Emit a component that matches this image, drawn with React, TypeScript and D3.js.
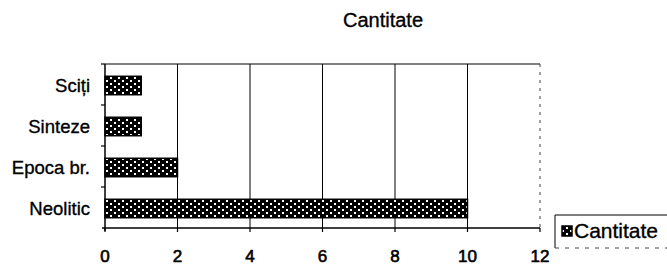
import React from "react";
import * as d3 from "d3";

const categories = ["Sciți", "Sinteze", "Epoca br.", "Neolitic"];
const values = [1, 1, 2, 10];
const xTicks = [0, 2, 4, 6, 8, 10, 12];
const seriesName = "Cantitate";
const title = "Cantitate";

export default function App() {
  const W = 667, H = 264;
  const left = 105, right = 540, top = 64, bottom = 228;
  const x = d3.scaleLinear().domain([0, 12]).range([left, right]);
  const y = d3.scaleBand().domain(categories).range([top, bottom]).paddingInner(0.55).paddingOuter(0.275);
  const yb = d3.scaleBand().domain(categories).range([top, bottom]);
  const font = "'Liberation Sans', Arial, sans-serif";
  const txt = { fontFamily: font, fill: "#000", stroke: "#000", strokeWidth: 0.35 };
  return (
    <svg width={W} height={H} style={{ position: "absolute", left: 0, top: 0, background: "#fff" }}>
      <defs>
        <pattern id="chk" width="8" height="6" patternUnits="userSpaceOnUse" x={left} y="1">
          <rect width="8" height="6" fill="#000" />
          <rect x="1" y="1" width="2" height="2" fill="#fff" />
          <rect x="5" y="4" width="2" height="2" fill="#fff" />
        </pattern>
      </defs>
      <rect width={W} height={H} fill="#fff" />
      <text x={383} y={27} textAnchor="middle" fontSize={20} {...txt}>{title}</text>
      {/* top border */}
      <line x1={left} x2={right} y1={top} y2={top} stroke="#555" strokeWidth={1.5} />
      {/* gridlines */}
      {xTicks.filter(t => t > 0 && t < 12).map(t => (
        <line key={t} x1={x(t)} x2={x(t)} y1={top} y2={bottom} stroke="#000" strokeWidth={1} />
      ))}
      <line x1={x(12)} x2={x(12)} y1={top} y2={bottom} stroke="#444" strokeWidth={1} strokeDasharray="3,5" />
      {/* bars */}
      {categories.map((c, i) => (
        <rect key={c} x={x(0)} y={(y(c) as number) + 1} width={x(values[i]) - x(0)} height={y.bandwidth()}
          fill="url(#chk)" stroke="#000" strokeWidth={1.5} />
      ))}
      {/* axes */}
      <line x1={left} x2={left} y1={top} y2={bottom + 3} stroke="#000" strokeWidth={1.5} />
      <line x1={left - 3} x2={right} y1={bottom} y2={bottom} stroke="#000" strokeWidth={1.5} />
      {categories.map(c => (
        <line key={c} x1={left - 4} x2={left} y1={yb(c) as number} y2={yb(c) as number} stroke="#000" strokeWidth={1.2} />
      ))}
      {xTicks.map(t => (
        <line key={t} x1={x(t)} x2={x(t)} y1={bottom} y2={bottom + 4} stroke="#000" strokeWidth={1.2} />
      ))}
      {categories.map(c => (
        <text key={c} x={90} y={(yb(c) as number) + yb.bandwidth() / 2 + 3} textAnchor="end" dominantBaseline="middle"
          fontSize={18.5} {...txt}>{c}</text>
      ))}
      {xTicks.map(t => (
        <text key={t} x={x(t)} y={261.5} textAnchor="middle" fontSize={17} {...txt} strokeWidth={0.6}>{t}</text>
      ))}
      {/* legend */}
      <line x1={555} x2={672} y1={215} y2={215} stroke="#000" strokeWidth={1} />
      <line x1={555} x2={555} y1={215} y2={248} stroke="#000" strokeWidth={1} />
      <line x1={555} x2={672} y1={248} y2={248} stroke="#444" strokeWidth={1} strokeDasharray="4,6" />
      <rect x={562} y={226} width={10} height={10} fill="url(#chk)" stroke="#000" strokeWidth={1.5} />
      <text x={574} y={238} fontSize={21} {...txt}>{seriesName}</text>
    </svg>
  );
}
